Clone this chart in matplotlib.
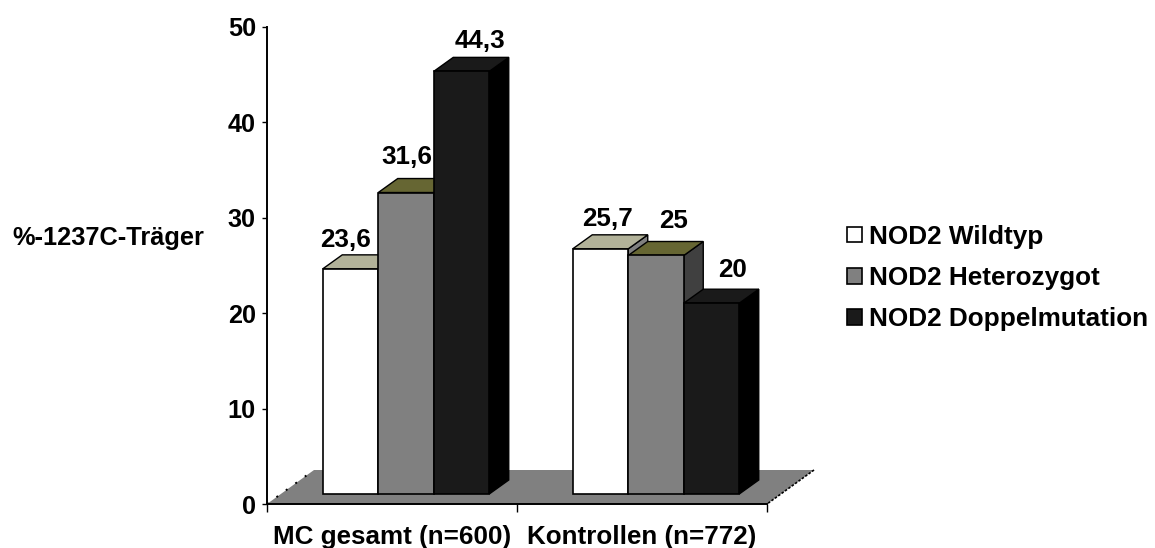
import matplotlib
matplotlib.use("Agg")
import matplotlib.pyplot as plt
from matplotlib.patches import Patch

# Chart data
groups = ["MC gesamt (n=600)", "Kontrollen (n=772)"]
series_names = ["NOD2 Wildtyp", "NOD2 Heterozygot", "NOD2 Doppelmutation"]
wildtyp = [23.6, 25.7]
heterozygot = [31.6, 25.0]
doppelmutation = [44.3, 20.0]
value_labels = [["23,6", "25,7"], ["31,6", "25"], ["44,3", "20"]]
y_ticks = [0, 10, 20, 30, 40, 50]
y_title = "%-1237C-Träger"

# Face colours per series: front, top, side
front_colors = ["#ffffff", "#808080", "#1a1a1a"]
top_colors = ["#b2b299", "#666633", "#1a1a1a"]
side_colors = ["#808080", "#404040", "#000000"]

# Label offsets in pixels from each bar's front top-centre
label_offsets = [[(-5, 22), (7, 23)], [(1, 29), (18, 28)], [(18, 23), (21, 26)]]

FIG_W, FIG_H = 1155, 548
AX_L, AX_R, AX_T, AX_B = 267, 767, 27, 504
FONT = "Liberation Sans"
FS = 18.2
FS_LABEL = 18.7

fig = plt.figure(figsize=(FIG_W / 100, FIG_H / 100), dpi=100, facecolor="white")
ax = fig.add_axes([AX_L / FIG_W, 1 - AX_B / FIG_H,
                   (AX_R - AX_L) / FIG_W, (AX_B - AX_T) / FIG_H])
ax.set_xlim(-0.5, 1.5)
ax.set_ylim(0, 50)
ax.patch.set_alpha(0)

# Pixel-to-data scale factors for the pseudo 3D depth
px_x = 2.0 / (AX_R - AX_L)
px_y = 50.0 / (AX_B - AX_T)

# Floor of the 3D scene
floor_dx, floor_dy = 47 * px_x, 34 * px_y
floor_x = [-0.5, -0.5 + floor_dx, 1.5 + floor_dx, 1.5]
floor_y = [0, floor_dy, floor_dy, 0]
ax.fill(floor_x, floor_y, color="#808080", lw=0, zorder=1, clip_on=False)
ax.plot(floor_x[:2], floor_y[:2], color="black", lw=1.4, ls=(0, (1, 5)), zorder=1.5, clip_on=False)
ax.plot(floor_x[2:], floor_y[2:], color="black", lw=1.2, ls=(0, (1.5, 1)), zorder=1.5, clip_on=False)

# Bars: side and top faces go down first, then the front face
bar_w = 55.5 * px_x
base = 10 * px_y
depth_x, depth_y = 19.5 * px_x, 14 * px_y
shift = 14 * px_x
all_series = [wildtyp, heterozygot, doppelmutation]

z = 2.0
for g in range(len(groups)):
    for s, values in enumerate(all_series):
        v = values[g]
        left = g + shift + (s - 1.5) * bar_w
        right = left + bar_w
        top = base + v
        ax.fill([right, right + depth_x, right + depth_x, right],
                [base, base + depth_y, top + depth_y, top],
                facecolor=side_colors[s], edgecolor="black", lw=1.0, zorder=z, clip_on=False)
        ax.fill([left, left + depth_x, right + depth_x, right],
                [top, top + depth_y, top + depth_y, top],
                facecolor=top_colors[s], edgecolor="black", lw=1.0, zorder=z, clip_on=False)
        ax.bar(left, v, width=bar_w, bottom=base, align="edge",
               facecolor=front_colors[s], edgecolor="black", lw=1.2, zorder=z + 0.1, clip_on=False)
        z += 0.2
        ax.annotate(value_labels[s][g], xy=(left + bar_w / 2, top),
                    xytext=label_offsets[s][g], textcoords="offset pixels",
                    ha="center", va="baseline", fontsize=FS_LABEL, fontweight="bold",
                    family=FONT, color="black", zorder=10, annotation_clip=False)

# Axes
for side in ("top", "right"):
    ax.spines[side].set_visible(False)
for side in ("left", "bottom"):
    ax.spines[side].set_linewidth(1.4)
    ax.spines[side].set_zorder(8)
ax.set_yticks(y_ticks)
ax.set_yticklabels([str(t) for t in y_ticks], fontsize=FS, fontweight="bold", family=FONT)
ax.tick_params(axis="y", length=5.5 * 0.72, width=1.0, pad=4)
ax.set_xticks([-0.5, 0.5, 1.5])
ax.set_xticklabels([])
ax.tick_params(axis="x", which="major", length=8 * 0.72, width=1.0)
ax.set_xticks([0, 1], minor=True)
ax.set_xticklabels(groups, minor=True, fontsize=18.7, fontweight="bold", family=FONT)
ax.tick_params(axis="x", which="minor", length=0, pad=15)

fig.text(12 / FIG_W, 1 - 238 / FIG_H, y_title, ha="left", va="center",
         fontsize=18.3, fontweight="bold", family=FONT)

# Legend
handles = [Patch(facecolor=c, edgecolor="black", lw=1.2) for c in front_colors]
fig.legend(handles, series_names, loc="center left",
           bbox_to_anchor=(847 / FIG_W, 1 - 278 / FIG_H), frameon=False,
           prop={"family": FONT, "weight": "bold", "size": 18.8},
           handlelength=0.56, handleheight=0.56, handletextpad=0.3,
           labelspacing=0.66, borderpad=0, borderaxespad=0)

fig.savefig("out.png", dpi=100, facecolor="white")
